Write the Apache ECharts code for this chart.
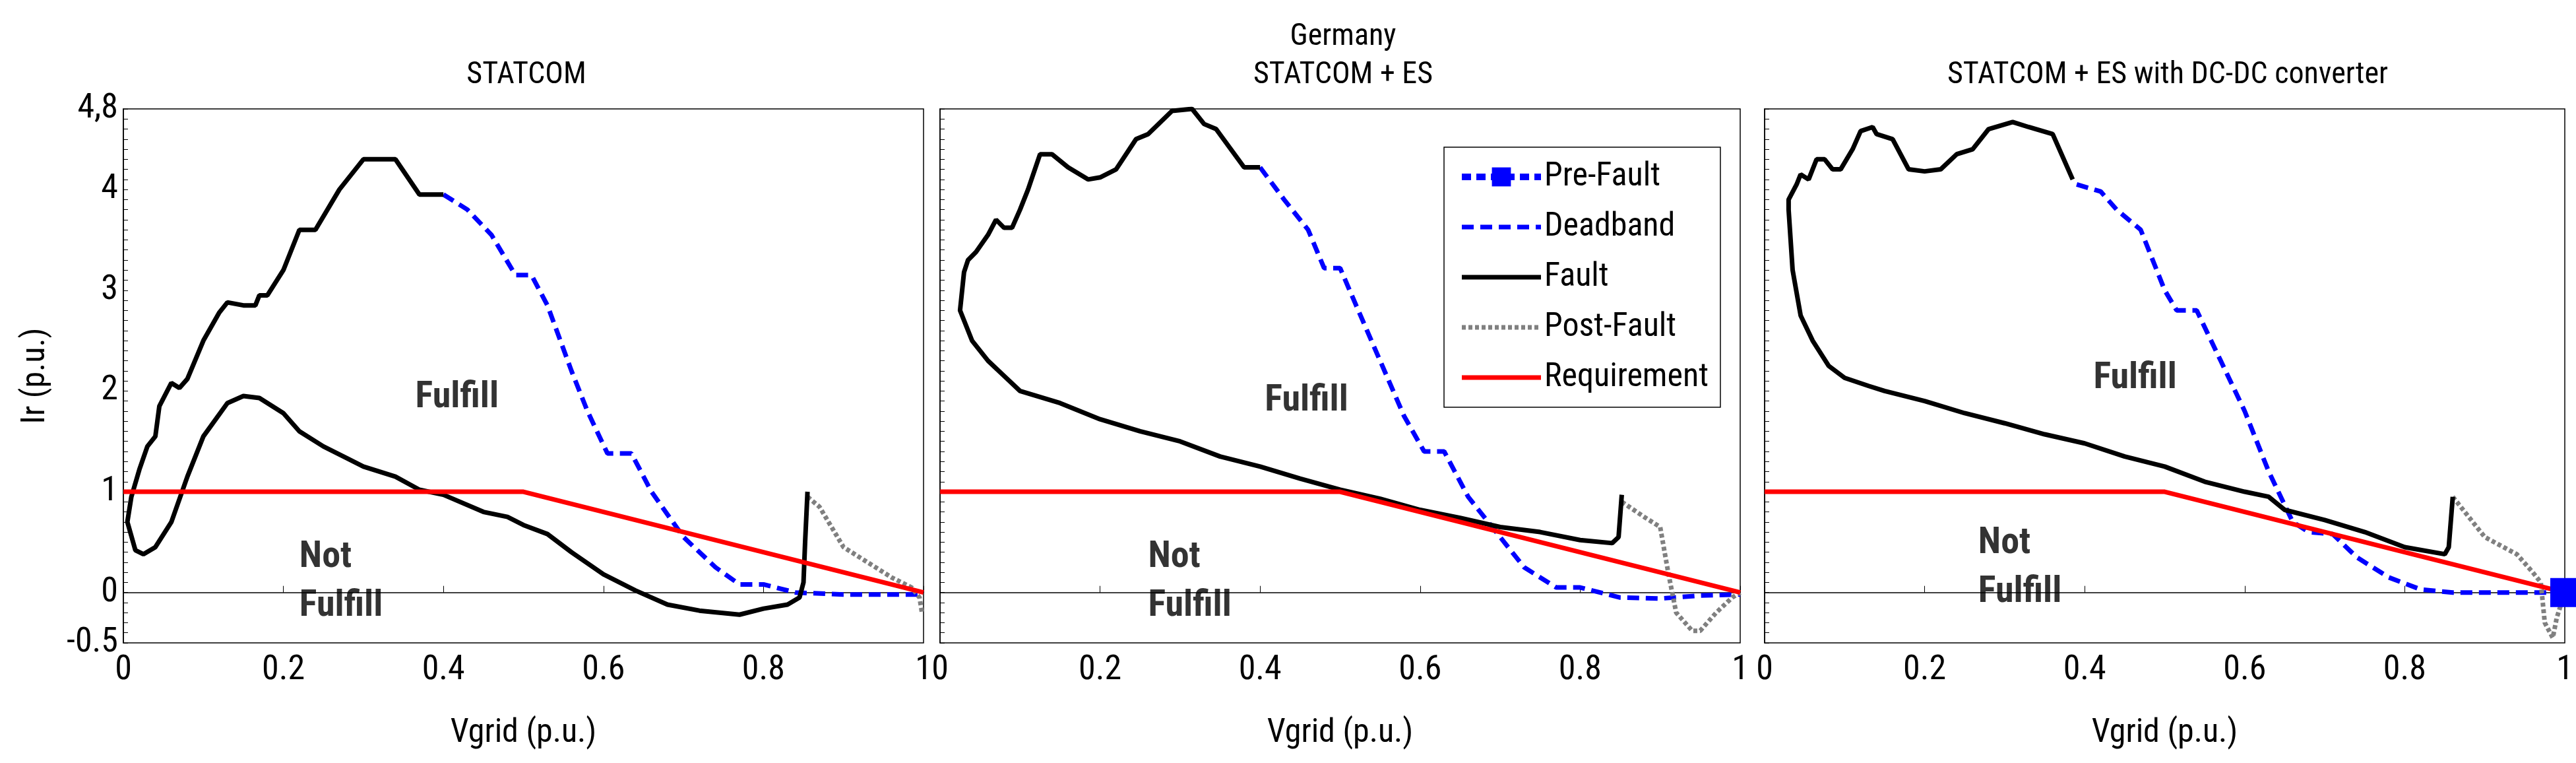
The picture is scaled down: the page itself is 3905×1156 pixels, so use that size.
<!DOCTYPE html>
<html><head><meta charset="utf-8">
<script src="https://cdn.jsdelivr.net/npm/echarts@6/dist/echarts.min.js"></script>
<style>html,body{margin:0;padding:0;background:#fff}#c{width:3905px;height:1156px}</style>
</head><body><div id="c"></div>
<script>
const panelTitles = ['STATCOM', 'Germany\nSTATCOM + ES', 'STATCOM + ES with DC-DC converter'];
const yTickLabels = [-0.5, 0, 1, 2, 3, 4, 4.8];
const xTickLabels = [0, 0.2, 0.4, 0.6, 0.8, 1];
const requirement = [[0,1],[0.5,1],[1,0]];
const preFault3 = [[1,0]];

const fault1 = [[0.4,3.95],[0.37,3.95],[0.34,4.3],[0.3,4.3],[0.27,4.0],[0.24,3.6],[0.22,3.6],[0.2,3.2],[0.18,2.95],[0.17,2.95],[0.165,2.85],[0.15,2.85],[0.13,2.88],[0.12,2.78],[0.1,2.5],[0.08,2.12],[0.07,2.03],[0.06,2.08],[0.045,1.85],[0.04,1.55],[0.03,1.45],[0.02,1.22],[0.01,0.95],[0.005,0.7],[0.015,0.42],[0.025,0.38],[0.04,0.45],[0.06,0.7],[0.08,1.15],[0.1,1.55],[0.13,1.88],[0.15,1.95],[0.17,1.93],[0.2,1.78],[0.22,1.6],[0.25,1.45],[0.28,1.33],[0.3,1.25],[0.34,1.15],[0.37,1.02],[0.4,0.97],[0.45,0.8],[0.48,0.75],[0.5,0.67],[0.53,0.58],[0.56,0.4],[0.6,0.18],[0.64,0.02],[0.68,-0.12],[0.72,-0.18],[0.77,-0.22],[0.8,-0.16],[0.83,-0.12],[0.845,-0.05],[0.85,0.1],[0.852,0.5],[0.855,1.0]];
const dead1 = [[0.4,3.95],[0.43,3.8],[0.46,3.55],[0.49,3.15],[0.51,3.15],[0.53,2.85],[0.56,2.2],[0.58,1.8],[0.605,1.38],[0.635,1.38],[0.66,1.0],[0.7,0.55],[0.74,0.25],[0.77,0.08],[0.8,0.08],[0.84,0.0],[0.9,-0.02],[1.0,-0.02]];
const post1 = [[0.855,0.95],[0.87,0.85],[0.9,0.45],[0.93,0.3],[0.96,0.15],[0.985,0.05],[0.995,-0.05],[0.998,-0.2]];

const fault2 = [[0.4,4.22],[0.38,4.22],[0.345,4.6],[0.33,4.65],[0.315,4.8],[0.29,4.78],[0.26,4.55],[0.245,4.5],[0.22,4.2],[0.2,4.12],[0.185,4.1],[0.16,4.22],[0.14,4.35],[0.125,4.35],[0.11,4.0],[0.1,3.8],[0.09,3.62],[0.08,3.62],[0.07,3.7],[0.06,3.55],[0.045,3.38],[0.035,3.3],[0.03,3.18],[0.025,2.8],[0.04,2.5],[0.06,2.3],[0.08,2.15],[0.1,2.0],[0.15,1.88],[0.2,1.72],[0.25,1.6],[0.3,1.5],[0.35,1.35],[0.4,1.25],[0.45,1.13],[0.5,1.02],[0.55,0.93],[0.6,0.82],[0.65,0.74],[0.7,0.65],[0.75,0.6],[0.8,0.52],[0.84,0.49],[0.848,0.55],[0.852,0.97]];
const dead2 = [[0.4,4.22],[0.43,3.9],[0.46,3.6],[0.48,3.22],[0.5,3.22],[0.52,2.85],[0.55,2.3],[0.58,1.75],[0.605,1.4],[0.63,1.4],[0.66,0.95],[0.7,0.55],[0.73,0.25],[0.77,0.05],[0.8,0.05],[0.85,-0.05],[0.9,-0.06],[0.95,-0.03],[1.0,-0.02]];
const post2 = [[0.852,0.9],[0.88,0.75],[0.9,0.65],[0.91,0.2],[0.92,-0.2],[0.94,-0.38],[0.95,-0.38],[0.97,-0.2],[0.99,-0.05],[1.0,0]];

const fault3 = [[0.385,4.1],[0.36,4.55],[0.33,4.62],[0.31,4.67],[0.28,4.6],[0.26,4.4],[0.24,4.35],[0.22,4.2],[0.2,4.18],[0.18,4.2],[0.16,4.5],[0.14,4.55],[0.135,4.62],[0.12,4.58],[0.11,4.4],[0.095,4.2],[0.085,4.2],[0.075,4.3],[0.065,4.3],[0.055,4.1],[0.045,4.15],[0.04,4.05],[0.03,3.9],[0.03,3.8],[0.035,3.2],[0.045,2.75],[0.06,2.5],[0.08,2.25],[0.1,2.13],[0.13,2.05],[0.15,2.0],[0.2,1.9],[0.25,1.78],[0.3,1.68],[0.35,1.57],[0.4,1.48],[0.45,1.35],[0.5,1.25],[0.55,1.1],[0.6,1.0],[0.63,0.95],[0.65,0.82],[0.7,0.72],[0.75,0.6],[0.8,0.45],[0.85,0.38],[0.855,0.45],[0.86,0.95]];
const dead3 = [[0.39,4.05],[0.42,3.98],[0.44,3.8],[0.47,3.6],[0.5,3.0],[0.515,2.8],[0.54,2.8],[0.57,2.3],[0.6,1.8],[0.63,1.2],[0.66,0.7],[0.68,0.6],[0.71,0.58],[0.74,0.35],[0.78,0.15],[0.82,0.03],[0.86,0.0],[1.0,0.0]];
const post3 = [[0.86,0.95],[0.9,0.55],[0.94,0.38],[0.96,0.2],[0.97,0.1],[0.975,-0.3],[0.985,-0.45],[0.99,-0.25],[1.0,0]];

const fulfillPos = [[0.417,1.93],[0.458,1.9],[0.463,2.12]];
const notFulfillPos = [[0.22,0.1],[0.26,0.1],[0.267,0.24]];

const FONT = "'Liberation Sans Narrow','Arial Narrow','Roboto Condensed','Liberation Sans',Arial,sans-serif";
const gridLefts = [187, 1425, 2675];
const faults = [fault1, fault2, fault3], deads = [dead1, dead2, dead3], posts = [post1, post2, post3];

const grids = [], xAxes = [], yAxes = [], series = [], titles = [];
for (let i = 0; i < 3; i++) {
  grids.push({left: gridLefts[i], width: 1213, top: 165, bottom: 182, show: true, borderColor: '#000', borderWidth: 1.5, backgroundColor: '#fff'});
  xAxes.push({type: 'value', gridIndex: i, min: 0, max: 1, interval: 0.2,
    name: 'Vgrid (p.u.)', nameLocation: 'middle', nameGap: 112,
    nameTextStyle: {fontFamily: FONT, fontSize: 50, color: '#000'},
    axisLine: {lineStyle: {color: '#000', width: 1.5}},
    axisTick: {inside: true, length: 10, lineStyle: {color: '#000'}},
    splitLine: {show: false},
    axisLabel: {fontFamily: FONT, fontSize: 52, color: '#000', margin: 16, showMinLabel: true, showMaxLabel: true,
      formatter: v => { const r = Math.round(v*10)/10; return xTickLabels.includes(r) ? String(r) : ''; }}});
  yAxes.push({type: 'value', gridIndex: i, min: -0.5, max: 4.8, interval: 0.1,
    name: i === 0 ? 'Ir (p.u.)' : '', nameLocation: 'middle', nameGap: 108,
    nameTextStyle: {fontFamily: FONT, fontSize: 50, color: '#000'},
    axisLine: {show: true, lineStyle: {color: '#000', width: 1.5}},
    axisTick: {inside: true, length: 7, lineStyle: {color: '#000'}},
    splitLine: {show: false},
    axisLabel: {show: i === 0, fontFamily: FONT, fontSize: 52, color: '#000', margin: 8, showMaxLabel: true,
      formatter: v => { const r = Math.round(v*10)/10; if (!yTickLabels.includes(r)) return ''; return r === 4.8 ? '4,8' : String(r); }}});
  series.push({name: 'Fault', type: 'line', xAxisIndex: i, yAxisIndex: i, data: faults[i], symbol: 'none', lineStyle: {color: '#000', width: 7}, itemStyle: {color: '#000'}, z: 3});
  series.push({name: 'Deadband', type: 'line', xAxisIndex: i, yAxisIndex: i, data: deads[i], symbol: 'none', lineStyle: {color: '#0000ff', width: 7, type: [18, 10]}, itemStyle: {color: '#0000ff'}, z: 2});
  series.push({name: 'Post-Fault', type: 'line', xAxisIndex: i, yAxisIndex: i, data: posts[i], symbol: 'none', lineStyle: {color: '#808080', width: 7, type: [6, 4]}, itemStyle: {color: '#808080'}, z: 2});
  series.push({name: 'Requirement', type: 'line', xAxisIndex: i, yAxisIndex: i, data: requirement, symbol: 'none', lineStyle: {color: '#ff0000', width: 7}, itemStyle: {color: '#ff0000'}, z: 4});
  series.push({type: 'scatter', xAxisIndex: i, yAxisIndex: i, symbolSize: 0, silent: true, z: 6,
    data: [{value: fulfillPos[i], label: {show: true, formatter: 'Fulfill', position: 'inside', fontFamily: FONT, fontSize: 56, fontWeight: 'bold', color: '#000'}},
           {value: notFulfillPos[i], label: {show: true, formatter: 'Not\nFulfill', position: 'inside', align: 'left', lineHeight: 74, fontFamily: FONT, fontSize: 56, fontWeight: 'bold', color: '#000'}}]});
  titles.push({text: panelTitles[i], left: gridLefts[i] + 606, top: i === 1 ? 22 : 80, textAlign: 'center',
    textStyle: {fontFamily: FONT, fontSize: 46, fontWeight: 'normal', color: '#000', lineHeight: 58}});
}
series.push({name: 'Pre-Fault', type: 'line', xAxisIndex: 2, yAxisIndex: 2, data: preFault3, symbol: 'rect', symbolSize: 44, lineStyle: {color: '#0000ff', width: 10, type: [14, 8]}, itemStyle: {color: '#0000ff'}, z: 7});

const noSym = {opacity: 0};
const chart = echarts.init(document.getElementById('c'));
chart.setOption({
  animation: false,
  backgroundColor: '#fff',
  title: titles,
  grid: grids, xAxis: xAxes, yAxis: yAxes, series: series,
  legend: {data: [
      {name: 'Pre-Fault', lineStyle: {width: 10}},
      {name: 'Deadband', itemStyle: noSym, lineStyle: {width: 7}},
      {name: 'Fault', itemStyle: noSym, lineStyle: {width: 7}},
      {name: 'Post-Fault', itemStyle: noSym, lineStyle: {width: 7}},
      {name: 'Requirement', itemStyle: noSym, lineStyle: {width: 7}}], orient: 'vertical',
    left: 2189, top: 223, width: 433, itemWidth: 120, itemHeight: 36, itemGap: 26,
    padding: [20, 18, 20, 22], backgroundColor: '#fff', borderColor: '#000', borderWidth: 1.5,
    textStyle: {fontFamily: FONT, fontSize: 50, color: '#000'}}
});
</script></body></html>
